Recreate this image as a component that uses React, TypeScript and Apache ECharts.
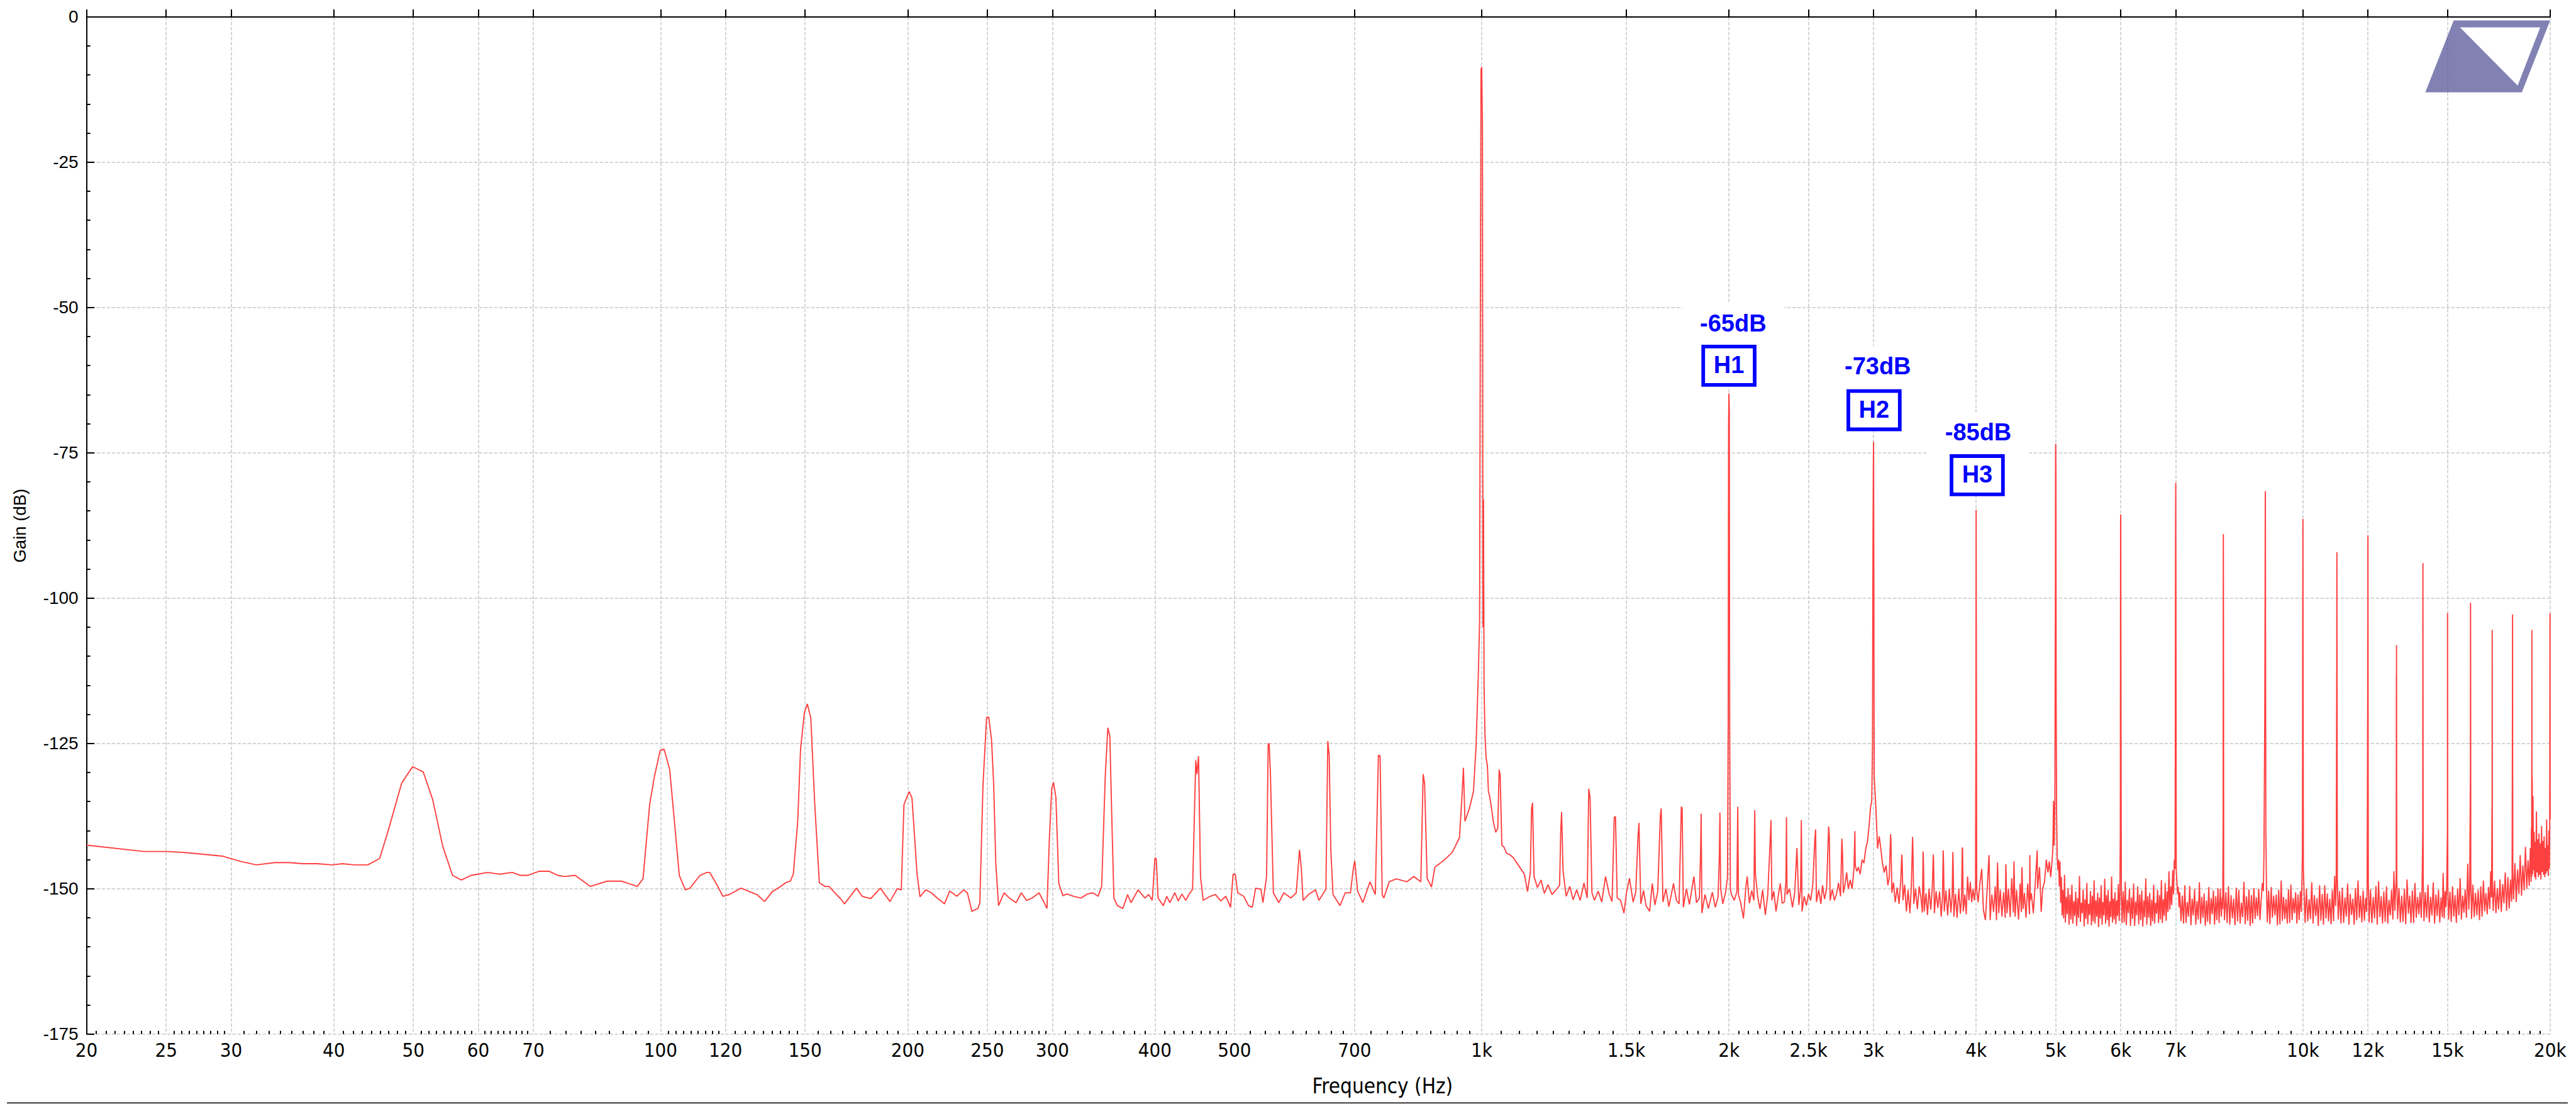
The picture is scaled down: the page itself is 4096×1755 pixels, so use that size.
import React, { useEffect, useRef } from 'react';
import * as echarts from 'echarts';

// ---------- axis values ----------
const FREQ_TICKS = [20, 25, 30, 40, 50, 60, 70, 100, 120, 150, 200, 250, 300, 400, 500, 700,
  1000, 1500, 2000, 2500, 3000, 4000, 5000, 6000, 7000, 10000, 12000, 15000, 20000];
const GAIN_MIN = -175;
const GAIN_MAX = 0;
const GAIN_STEP = 25;

// ---------- spectrum [Hz, dB] ----------
const LOW_BAND: number[][] = [
  [20, -142.5], [23.5, -143.6], [25.1, -143.6], [26.5, -143.8], [29.3, -144.4], [30.8, -145.3], [32.2, -145.9],
  [33.9, -145.5], [35.3, -145.5], [36.7, -145.7], [38.2, -145.7], [39.8, -145.9], [41.0, -145.7], [42.4, -145.9],
  [44.0, -145.9], [45.5, -144.8], [46.6, -140.0], [48.4, -131.8], [49.9, -129.0], [51.4, -129.9], [52.8, -134.7],
  [54.3, -142.7], [55.8, -147.7], [57.2, -148.5], [58.8, -147.7], [61.6, -147.2], [63.6, -147.5], [66.0, -147.2],
  [67.5, -147.7], [68.9, -147.7], [71.1, -147.0], [73.2, -147.0], [75.0, -147.7], [76.4, -147.9], [78.7, -147.7],
  [82.1, -149.6], [86.1, -148.7], [89.6, -148.7], [91.0, -149.0], [93.7, -149.6], [95.2, -148.3], [97.0, -135.5],
  [98.3, -130.7], [99.9, -126.2], [101.0, -126.0], [102.6, -129.5], [103.8, -137.3], [105.4, -147.7], [107.2, -150.2],
  [108.6, -149.9], [111.7, -147.7], [113.9, -147.2], [114.8, -147.2], [117.1, -149.3], [119.1, -151.3], [121.3, -151.0],
  [125.3, -149.9], [131.0, -151.0], [133.9, -152.2], [136.8, -150.5], [140.1, -149.6], [142.3, -148.9], [143.9, -148.7],
  [145.1, -147.5], [146.9, -138.5], [148.1, -125.9], [149.7, -119.7], [150.9, -118.2], [152.4, -120.6], [154.1, -135.5],
  [156.1, -149.0], [158.6, -149.6], [160.4, -149.6], [162.5, -150.5], [165.6, -151.7], [167.5, -152.6], [173.2, -149.9],
  [176.0, -151.3], [180.3, -151.7], [185.2, -149.9], [190.3, -152.2], [194.2, -150.0], [196.4, -150.2], [197.9, -135.5],
  [200.8, -133.3], [202.4, -134.4], [205.3, -147.5], [207.0, -151.4], [210.3, -150.2], [213.7, -150.7], [217.2, -151.6],
  [221.7, -152.6],
];

const HUM_BAND: number[][] = [
  [225, -150.4], [229.5, -151.3], [234, -150.2], [236.4, -150.7], [239.4, -153.9], [243.5, -153.4], [244.8, -152.4],
  [247, -132.1], [249.5, -120.5], [251, -120.5], [253, -124.5], [254.5, -132.1], [256, -145.6], [258, -152.9],
  [262, -150.7], [266, -151.6], [271, -152.4], [275, -150.7], [279, -152.0], [283.5, -151.6], [289, -150.7],
  [293, -152.3], [295.5, -153.4], [297.5, -141.5], [299.5, -132.7], [301, -131.7], [303, -134.3], [305.5, -149.1],
  [309, -151.2], [312.5, -150.9], [318.5, -151.3], [325, -151.6], [331, -150.9], [336, -150.7], [341, -151.3],
  [344.5, -149.6], [348, -130.5], [350.5, -122.3], [352.5, -123.8], [354.5, -138.4], [356.5, -151.6], [360, -152.9],
  [365.5, -153.4], [370.5, -151.0], [374, -152.4], [381.5, -150.2], [389, -151.6], [393, -151.0], [397, -152.0],
  [400, -144.7], [401.5, -144.9], [403.5, -151.6], [409.5, -152.9], [413.5, -151.3], [417, -152.4], [423, -150.7],
  [427, -152.1], [431.5, -150.9], [436, -152.0], [440, -151.0], [444.5, -150.1], [448.5, -127.9], [450, -130.3],
  [452, -127.2], [454.5, -147.9], [458, -152.0], [467, -151.3], [474, -151.0], [481, -152.1], [488, -151.3],
  [494.5, -153.2], [498, -147.5], [501, -147.5], [504.5, -150.7], [513, -151.3], [520, -152.9], [525.5, -153.2],
  [530.5, -149.9], [538.5, -150.1], [541.5, -152.4], [547, -147.9], [549.5, -125.1], [551, -125.0], [553, -130.5],
  [555, -139.6], [557.5, -150.7], [566, -152.4], [574, -150.7], [585.5, -151.6], [594.5, -150.7], [600, -143.3],
  [603, -146.6], [606, -152.0], [615, -151.0], [627.5, -150.2], [633.5, -152.0], [640, -151.0], [646, -150.1],
  [649.5, -124.6], [652, -127.0], [655, -143.4], [659, -151.0], [672, -152.9], [682, -150.7], [692, -150.7],
  [698, -146.3], [700.5, -145.2], [706, -150.4], [716.5, -152.4], [731, -148.8], [742, -151.0], [748.5, -127.0],
  [752, -127.2], [756.5, -151.0], [760, -151.6], [771.5, -148.8], [787, -148.3], [810.5, -148.8], [826.5, -147.9],
  [843, -148.8], [848.5, -130.3], [852, -131.9], [858, -148.2], [868.5, -149.7], [877, -146.3], [890, -145.6],
  [903, -144.9], [921, -143.7], [939.5, -141.2], [946.5, -133.6], [950, -129.2], [954, -138.4], [966, -136.2],
  [977, -133.3], [984, -125.7], [988, -118],
];

const FUNDAMENTAL: number[][] = [
  [991, -112], [994, -104], [996, -54], [998, -9.1], [1000, -8.6], [1002, -19.4], [1003.5, -105], [1005, -83],
  [1006.5, -115], [1008, -120],
];

const BAND_1K_2K: number[][] = [
  [1009, -123.2], [1012, -127.3], [1016, -128.9], [1019, -133.3], [1022, -134.0], [1028, -136.2], [1033, -138.4],
  [1040, -140.3], [1046, -139.6], [1050, -129.5], [1053, -130.5], [1058, -142.5], [1064, -142.8], [1072, -143.9],
  [1081, -144.1], [1093, -144.7], [1104, -145.6], [1116, -146.6], [1127, -147.5], [1137, -150.5], [1146, -147.2],
  [1150, -136.2], [1153, -135.2], [1158, -147.9], [1169, -149.8], [1181, -148.5], [1192, -150.8], [1204, -149.3],
  [1218, -151.0], [1233, -150.1], [1244, -149.4], [1248, -140.0], [1251, -136.8], [1256, -146.9], [1267, -151.3],
  [1280, -149.6], [1292, -151.9], [1305, -150.2], [1318, -152.0], [1332, -149.0], [1344, -151.6], [1350, -132.8],
  [1355, -134.4], [1362, -150.7], [1372, -152.0], [1386, -150.4], [1400, -152.3], [1415, -147.9], [1430, -151.0],
  [1441, -152.2], [1450, -137.7], [1455, -137.6], [1462, -151.6], [1476, -152.0], [1490, -154.2], [1500, -150.8],
  [1513, -148.2], [1529, -152.3], [1540, -150.6], [1550, -140.9], [1554, -138.7], [1562, -152.6], [1574, -150.3],
  [1585, -152.9], [1601, -153.9], [1613, -149.1], [1625, -152.8], [1638, -150.5], [1650, -137.4], [1654, -136.2],
  [1662, -152.3], [1676, -150.0], [1690, -153.1], [1712, -149.1], [1726, -152.0], [1739, -152.6], [1750, -135.9],
  [1754, -136.2], [1760, -153.2], [1775, -150.0], [1790, -152.7], [1813, -147.9], [1826, -152.4], [1841, -151.6],
  [1847, -143.9], [1850, -137.1], [1854, -154.2], [1870, -151.0], [1888, -153.4], [1909, -150.6], [1925, -153.2],
  [1940, -151.4], [1947, -144.4], [1950, -136.9], [1954, -150.0], [1966, -152.6], [1982, -150.5], [1992, -148.0],
  [1996, -120], [1998, -70], [2000, -64.8], [2002, -68], [2004, -120], [2008, -150.0],
];

const BAND_2K_3K: number[][] = [
  [2014, -151.0], [2030, -152.0], [2045, -150.5], [2050, -135.9], [2054, -151.0], [2068, -152.6], [2083, -155.1],
  [2097, -149.8], [2105, -147.9], [2118, -152.5], [2132, -150.3], [2145, -152.0], [2150, -136.5], [2154, -147.5],
  [2168, -151.4], [2182, -153.5], [2198, -150.2], [2215, -154.5], [2230, -151.0], [2247, -140.6], [2250, -138.2],
  [2256, -152.0], [2268, -150.4], [2282, -153.9], [2296, -151.3], [2310, -149.1], [2322, -152.5], [2336, -152.3],
  [2347, -148.5], [2350, -137.7], [2354, -151.0], [2370, -150.0], [2390, -153.2], [2405, -150.7], [2420, -143.0],
  [2433, -152.8], [2445, -150.0], [2450, -138.2], [2455, -153.9], [2470, -151.3], [2485, -152.9], [2500, -150.9],
  [2515, -152.0], [2530, -149.3], [2545, -141.4], [2550, -139.8], [2556, -152.3], [2572, -150.2], [2588, -152.6],
  [2600, -149.4], [2615, -151.8], [2630, -150.0], [2645, -139.3], [2650, -140.9], [2656, -152.0], [2672, -150.1],
  [2688, -152.0], [2703, -151.0], [2720, -149.0], [2735, -151.3], [2745, -141.4], [2750, -144.0], [2756, -150.7],
  [2770, -149.2], [2782, -147.2], [2795, -150.0], [2810, -148.5], [2825, -150.0], [2840, -146.5], [2847, -140.1],
  [2850, -146.0], [2862, -147.0], [2875, -146.3], [2890, -147.5], [2905, -145.0], [2920, -145.6], [2935, -143.1],
  [2950, -141.8], [2962, -139.3], [2975, -136.0], [2985, -134.9], [2991, -125], [2995, -92], [2998, -78],
  [3000, -73.1], [3002, -90],
];

const BAND_3K_4K: number[][] = [
  [3005, -130.5], [3020, -136.2], [3034, -143.1], [3048, -141.0], [3060, -142.8], [3075, -145.5], [3091, -147.2],
  [3107, -146.0], [3123, -149.4], [3135, -148.1], [3147, -140.6], [3150, -141.9], [3158, -150.7], [3172, -148.9],
  [3188, -152.3], [3205, -149.8], [3222, -152.6], [3238, -148.6], [3247, -144.1], [3250, -145.0], [3258, -152.0],
  [3273, -149.3], [3290, -153.9], [3305, -150.2], [3322, -154.2], [3335, -149.7], [3347, -141.1], [3350, -143.0],
  [3358, -152.6], [3375, -150.0], [3392, -153.5], [3410, -149.6], [3427, -151.6], [3440, -154.1], [3447, -143.6],
  [3450, -145.0], [3458, -153.9], [3475, -150.8], [3490, -154.5], [3505, -150.0], [3522, -153.6], [3537, -149.8],
  [3547, -144.1], [3550, -145.0], [3558, -154.2], [3575, -150.4], [3592, -153.3], [3610, -150.5], [3627, -154.8],
  [3640, -151.2], [3647, -143.4], [3650, -145.0], [3658, -153.9], [3675, -150.3], [3693, -154.6], [3710, -150.0],
  [3727, -154.1], [3740, -151.0], [3747, -143.7], [3750, -145.5], [3758, -154.8], [3775, -150.9], [3792, -155.0],
  [3810, -150.0], [3827, -154.3], [3840, -151.5], [3847, -143.1], [3850, -142.9], [3858, -153.9], [3875, -151.0],
  [3890, -154.4], [3905, -147.9], [3920, -152.0], [3935, -148.8], [3950, -152.3], [3965, -150.0], [3980, -152.0],
  [3993, -150], [3997, -125], [4000, -84.8], [4002, -110], [4006, -150],
];

const BAND_4K_5K: number[][] = [
  [4022, -152.3], [4040, -149.4], [4063, -146.6], [4082, -153.6], [4105, -155.4], [4125, -150.2], [4147, -144.2],
  [4150, -146.0], [4160, -155.4], [4180, -151.0], [4200, -154.0], [4220, -149.6], [4235, -155.4], [4247, -145.5],
  [4250, -147.0], [4262, -154.2], [4280, -150.2], [4300, -154.8], [4320, -150.6], [4340, -155.0], [4347, -145.8],
  [4350, -147.0], [4362, -154.2], [4380, -150.0], [4400, -154.9], [4420, -148.2], [4440, -154.1], [4447, -145.3],
  [4450, -147.0], [4462, -154.8], [4480, -150.2], [4505, -155.3], [4525, -149.1], [4540, -154.0], [4547, -146.3],
  [4550, -147.0], [4562, -153.5], [4580, -150.7], [4600, -155.0], [4622, -149.1], [4645, -154.4], [4650, -144.2],
  [4655, -152.0], [4670, -150.8], [4695, -154.2], [4720, -149.3], [4747, -143.4], [4752, -150.0], [4778, -146.3],
  [4800, -154.0], [4820, -150.0], [4845, -148.8], [4870, -145.0], [4892, -147.2], [4910, -145.3], [4930, -148.0],
  [4948, -145.3], [4960, -143.0], [4969, -134.9], [4978, -142.6], [4988, -134.9], [4995, -100], [4998, -74.5],
  [5000, -73.5], [5003, -80], [5006, -118],
];

const BAND_5K_7K: number[][] = [
  [5012, -137.1], [5020, -144.3], [5030, -146.8], [5040, -145.0], [5050, -149.6], [5060, -145.3], [5070, -152.4],
  [5080, -148.0], [5090, -154.6], [5100, -150.2], [5112, -155.1], [5125, -147.6], [5137, -155.8], [5150, -151.4],
  [5163, -154.4], [5176, -149.9], [5190, -156.2], [5204, -151.0], [5218, -155.3], [5232, -149.3], [5246, -156.0],
  [5260, -152.1], [5274, -154.7], [5288, -150.5], [5302, -156.4], [5316, -151.6], [5330, -155.0], [5344, -147.8],
  [5358, -155.7], [5372, -152.4], [5386, -154.2], [5400, -150.1], [5414, -156.5], [5428, -151.8], [5442, -155.2],
  [5456, -149.0], [5470, -156.1], [5484, -152.6], [5498, -154.5], [5512, -150.4], [5526, -156.3], [5540, -151.2],
  [5554, -155.6], [5568, -148.6], [5582, -156.0], [5596, -152.0], [5610, -154.8], [5624, -150.7], [5638, -156.6],
  [5652, -151.5], [5666, -155.1], [5680, -149.4], [5694, -156.2], [5708, -152.3], [5722, -154.6], [5736, -148.3],
  [5750, -156.0], [5764, -151.1], [5778, -155.4], [5792, -150.2], [5806, -156.5], [5820, -152.2], [5834, -154.9],
  [5848, -147.9], [5862, -155.8], [5876, -151.7], [5890, -155.3], [5904, -150.6], [5918, -156.1], [5932, -152.0],
  [5946, -154.7], [5960, -149.2], [5974, -155.5], [5985, -151.0],
  [5993, -140], [5997, -87.2], [6000, -85.6], [6004, -120], [6010, -150.5],
  [6022, -155.9], [6040, -150.4], [6058, -155.8], [6076, -148.8], [6094, -156.3], [6112, -151.9], [6130, -154.2],
  [6148, -150.0], [6166, -156.4], [6184, -151.5], [6202, -155.2], [6220, -149.1], [6238, -156.4], [6256, -152.2],
  [6274, -154.6], [6292, -149.6], [6310, -156.1], [6328, -151.0], [6346, -155.4], [6364, -150.3], [6382, -156.5],
  [6400, -152.0], [6418, -154.9], [6436, -148.2], [6454, -156.2], [6472, -151.3], [6490, -155.0], [6508, -150.7],
  [6526, -156.4], [6544, -151.9], [6562, -155.6], [6580, -149.3], [6598, -156.0], [6616, -152.4], [6634, -154.3],
  [6652, -150.2], [6670, -155.9], [6688, -151.1], [6706, -155.3], [6724, -148.5], [6742, -155.9], [6760, -151.8],
  [6778, -154.7], [6796, -149.0], [6814, -155.5], [6832, -150.4], [6850, -154.0], [6868, -147.0], [6886, -153.6],
  [6904, -149.6], [6922, -152.8], [6940, -146.8], [6958, -151.0], [6972, -145.0], [6985, -146.6],
  [6990, -135.3], [6996, -90], [7000, -80.2], [7004, -100], [7010, -146.8],
];

const BAND_7K_10K: number[][] = [
  [7022, -148.5], [7036, -150.9], [7050, -149.7], [7064, -153.2],
  [7080, -150.6], [7105, -155.6], [7130, -151.2], [7155, -156.0], [7180, -149.4], [7205, -155.9], [7230, -152.3],
  [7255, -154.8], [7280, -149.5], [7305, -156.3], [7330, -151.7], [7355, -154.6], [7380, -150.0], [7405, -156.2],
  [7430, -152.1], [7455, -155.3], [7480, -148.9], [7505, -156.0], [7530, -151.4], [7555, -155.0], [7580, -150.8],
  [7605, -156.4], [7630, -152.0], [7655, -155.7], [7680, -149.7], [7705, -156.1], [7730, -151.6], [7755, -154.4],
  [7780, -150.3], [7805, -156.2], [7830, -151.3], [7855, -155.4], [7880, -149.9], [7905, -155.9], [7930, -150.0],
  [7955, -154.8], [7975, -151.5], [7985, -153.5],
  [7994, -140], [7998, -92], [8000, -89.0], [8003, -110], [8008, -150.2],
  [8025, -155.4], [8055, -150.6], [8085, -155.9], [8115, -149.6], [8145, -156.2], [8175, -151.1], [8205, -155.1],
  [8235, -151.7], [8265, -156.3], [8295, -149.8], [8325, -155.6], [8355, -150.2], [8385, -156.0], [8415, -152.4],
  [8445, -154.9], [8475, -148.8], [8505, -156.1], [8535, -151.3], [8565, -155.5], [8595, -150.1], [8625, -156.4],
  [8655, -151.1], [8685, -156.0], [8715, -149.9], [8745, -155.2], [8775, -151.5], [8805, -154.7], [8835, -150.0],
  [8865, -155.4], [8895, -152.0], [8925, -149.0], [8950, -150.4], [8965, -143.7],
  [8985, -120], [8993, -100], [8997, -83], [9000, -81.6], [9004, -105], [9012, -140.5], [9030, -150.4],
  [9050, -155.8], [9082, -150.3], [9115, -156.1], [9148, -149.7], [9180, -155.0], [9212, -151.2], [9245, -154.6],
  [9278, -151.0], [9310, -156.3], [9342, -150.2], [9375, -156.1], [9408, -148.6], [9440, -155.5], [9472, -151.4],
  [9505, -155.2], [9538, -151.8], [9570, -156.0], [9602, -150.1], [9635, -155.9], [9668, -149.3], [9700, -155.4],
  [9732, -151.6], [9765, -154.2], [9798, -150.6], [9830, -156.0], [9862, -151.0], [9895, -155.4], [9928, -150.4],
  [9955, -154.0], [9972, -148.8], [9985, -143.9],
  [9995, -100], [9998, -88], [10000, -86.4], [10004, -110], [10012, -146.3], [10030, -150.2],
];

const BAND_10K_15K: number[][] = [
  [10060, -155.9], [10098, -150.0], [10136, -155.6], [10174, -151.8], [10212, -155.2], [10250, -148.9],
  [10288, -156.0], [10326, -151.1], [10364, -154.7], [10402, -151.6], [10440, -156.4], [10478, -149.4],
  [10516, -155.5], [10554, -150.9], [10592, -156.2], [10630, -149.4], [10668, -155.1], [10706, -150.8],
  [10744, -155.6], [10782, -151.7], [10820, -156.1], [10858, -150.2], [10896, -155.6], [10930, -147.8],
  [10960, -153.0], [10978, -149.4],
  [10995, -110], [10998, -94], [11000, -92.1], [11004, -115], [11012, -148.0],
  [11040, -155.3], [11082, -150.4], [11124, -156.0], [11166, -149.8], [11208, -155.9], [11250, -151.5],
  [11292, -154.8], [11334, -149.1], [11376, -156.2], [11418, -150.9], [11460, -154.5], [11502, -151.7],
  [11544, -156.2], [11586, -149.9], [11628, -155.4], [11670, -148.6], [11712, -155.0], [11754, -151.2],
  [11796, -155.8], [11838, -150.3], [11880, -155.5], [11922, -151.6], [11955, -154.0], [11972, -149.5],
  [11995, -110], [11998, -91], [12000, -89.2], [12004, -115], [12012, -149.0],
  [12040, -155.8], [12086, -150.1], [12132, -155.9], [12178, -151.4], [12224, -155.1], [12270, -149.5],
  [12316, -156.2], [12362, -148.7], [12408, -154.9], [12454, -151.3], [12500, -156.0], [12546, -150.5],
  [12592, -155.7], [12638, -149.6], [12684, -156.0], [12730, -151.9], [12776, -154.6], [12822, -150.2],
  [12868, -155.3], [12905, -147.0], [12940, -153.8], [12965, -150.5],
  [12990, -148], [12995, -113.3], [12998, -145], [13000, -108.1], [13004, -130], [13012, -148.5],
  [13040, -155.2], [13090, -149.9], [13140, -155.8], [13190, -151.2], [13240, -155.7], [13290, -150.0],
  [13340, -156.1], [13390, -148.4], [13440, -154.3], [13490, -151.2], [13540, -155.9], [13590, -150.3],
  [13640, -155.9], [13690, -149.0], [13740, -155.0], [13790, -151.4], [13840, -154.4], [13890, -150.6],
  [13935, -155.0], [13965, -150.2],
  [13993, -140], [13997, -96], [14000, -94.0], [14004, -123.5], [14010, -148.5],
  [14040, -155.6], [14093, -150.6], [14146, -155.0], [14199, -149.3], [14252, -155.8], [14305, -151.4],
  [14358, -154.6], [14411, -148.9], [14464, -156.0], [14517, -151.0], [14570, -154.7], [14623, -150.2],
  [14676, -155.8], [14729, -151.5], [14782, -154.9], [14815, -147.3], [14860, -155.1], [14900, -150.4],
  [14935, -153.2], [14965, -149.5],
  [14995, -140], [15000, -102.6], [15004, -130], [15012, -149.8],
];

const BAND_15K_20K: number[][] = [
  [15045, -155.3], [15100, -150.5], [15155, -155.7], [15210, -149.6], [15265, -154.8], [15320, -151.1],
  [15375, -155.9], [15430, -150.0], [15485, -154.6], [15540, -148.2], [15595, -155.3], [15650, -151.2],
  [15705, -154.1], [15760, -150.1], [15815, -155.0], [15875, -145.7], [15920, -153.6], [15960, -150.2],
  [15993, -130], [15997, -100.8], [16000, -101.5], [16003, -111.5], [16010, -147.8],
  [16045, -155.2], [16105, -149.3], [16165, -154.9], [16225, -150.7], [16285, -154.6], [16345, -150.2],
  [16405, -155.4], [16465, -149.6], [16525, -154.8], [16585, -148.6], [16645, -153.9], [16705, -150.8],
  [16765, -154.4], [16825, -149.7], [16885, -153.5], [16930, -147.0], [16968, -151.5],
  [16995, -135], [17000, -105.5], [17004, -135], [17012, -148.8],
  [17050, -153.8], [17115, -148.6], [17180, -154.2], [17245, -149.9], [17310, -153.6], [17375, -148.4],
  [17440, -154.0], [17505, -149.2], [17570, -152.5], [17635, -147.2], [17700, -153.8], [17765, -148.0],
  [17830, -153.4], [17895, -148.4], [17950, -152.2], [17975, -149.0],
  [17993, -120], [17997, -104.9], [18000, -102.8], [18004, -125], [18012, -147.0],
  [18050, -151.8], [18118, -145.6], [18186, -152.3], [18254, -146.7], [18322, -150.9], [18390, -144.2],
  [18458, -151.2], [18526, -146.0], [18594, -150.3], [18662, -142.8], [18730, -150.0], [18798, -145.1],
  [18860, -149.5], [18920, -143.0], [18960, -148.8], [18975, -139.5],
  [18990, -148], [18997, -125], [19000, -105.5], [19004, -130],
  [19020, -132.0], [19040, -147.5], [19060, -134.1], [19090, -146.8], [19120, -140.2], [19150, -148.0],
  [19180, -141.9], [19210, -148.4], [19245, -136.7], [19280, -147.2], [19315, -141.5], [19350, -148.0],
  [19385, -140.5], [19420, -147.6], [19455, -142.2], [19490, -148.4], [19525, -139.2], [19560, -147.1],
  [19595, -141.8], [19630, -147.6], [19665, -141.0], [19700, -148.0], [19735, -143.0], [19770, -147.4],
  [19805, -138.1], [19840, -147.0], [19870, -142.5], [19900, -147.8], [19930, -140.0], [19960, -146.5],
  [19975, -139], [19985, -120], [19992, -102.6], [20000, -138.1],
];

// ---------- harmonic annotations ----------
const ANNOT_FREQS = [2000, 3000, 4000];
const ANNOT_GAINS = [-65, -73, -85];
const ANNOT_NAMES = ['H1', 'H2', 'H3'];

const SPECTRUM = [
  ...LOW_BAND, ...HUM_BAND, ...FUNDAMENTAL, ...BAND_1K_2K, ...BAND_2K_3K,
  ...BAND_3K_4K, ...BAND_4K_5K, ...BAND_5K_7K, ...BAND_7K_10K, ...BAND_10K_15K, ...BAND_15K_20K,
];

// minor ticks: 8 between each labelled frequency
const MINOR_TICKS: number[] = [];
for (let i = 0; i < FREQ_TICKS.length - 1; i++) {
  const a = FREQ_TICKS[i];
  const b = FREQ_TICKS[i + 1];
  for (let k = 1; k < 9; k++) MINOR_TICKS.push(a + ((b - a) * k) / 9);
}

// layout (px) : [textDx, textDy, boxDx, boxDy] relative to the peak
const ANNOT_LAYOUT = [
  [6.7, -113.5, 0, -46],
  [6.7, -119.3, 0.8, -49.2],
  [3.3, -125.1, 1.7, -56.7],
];

const NARROW = "'Liberation Sans Narrow', 'DejaVu Sans Condensed', 'Liberation Sans', sans-serif";
const SANS = "'Liberation Sans', Arial, sans-serif";
const GRID_COLOR = '#c8c8c8';

function fmtFreq(v: number): string {
  const r = Math.round(v);
  if (r >= 1000) return `${Math.round(r / 100) / 10}k`;
  return `${r}`;
}

export default function App() {
  const ref = useRef<HTMLDivElement>(null);
  useEffect(() => {
    if (!ref.current) return;
    const chart = echarts.init(ref.current, undefined, { renderer: 'svg' });
    const baseX = {
      type: 'log',
      logBase: 10,
      min: 20,
      max: 20000,
      position: 'bottom',
    };
    const option: any = {
      animation: false,
      backgroundColor: '#ffffff',
      grid: { left: 137.6, right: 41.1, top: 26.7, bottom: 111.2, containLabel: false, outerBoundsMode: 'none' },
      xAxis: [
        {
          ...baseX,
          axisLine: { show: true, lineStyle: { color: '#000', width: 2 } },
          axisTick: { show: true, inside: true, length: 11.7, customValues: FREQ_TICKS, lineStyle: { color: '#000', width: 2 } },
          minorTick: { show: false },
          axisLabel: {
            show: true, customValues: FREQ_TICKS, margin: 10, color: '#000', fontSize: 31,
            fontFamily: NARROW, formatter: (v: number) => fmtFreq(v),
          },
          splitLine: { show: true, lineStyle: { color: GRID_COLOR, width: 1.5, type: [5.5, 2.5] } },
        },
        {
          ...baseX,
          axisLine: { show: false },
          axisTick: { show: true, inside: true, length: 5, customValues: MINOR_TICKS, lineStyle: { color: '#000', width: 2 } },
          axisLabel: { show: false },
          splitLine: { show: false },
          minorTick: { show: false },
        },
      ],
      yAxis: {
        type: 'value',
        min: GAIN_MIN,
        max: GAIN_MAX,
        interval: GAIN_STEP,
        axisLine: { show: true, lineStyle: { color: '#000', width: 2 } },
        axisTick: { show: true, inside: true, length: 12.5, lineStyle: { color: '#000', width: 2 } },
        minorTick: { show: true, splitNumber: 5, length: 6, lineStyle: { color: '#000', width: 2 } },
        axisLabel: { show: true, margin: 13, color: '#000', fontSize: 28, fontFamily: SANS },
        splitLine: { show: true, lineStyle: { color: GRID_COLOR, width: 1.5, type: [5.5, 2.5] } },
      },
      series: [
        {
          type: 'line',
          data: SPECTRUM,
          xAxisIndex: 0,
          yAxisIndex: 0,
          showSymbol: false,
          symbol: 'none',
          silent: true,
          z: 3,
          lineStyle: { color: '#ff4040', width: 1.9 },
        },
        {
          type: 'custom',
          coordinateSystem: 'cartesian2d',
          xAxisIndex: 0,
          yAxisIndex: 0,
          data: ANNOT_FREQS.map((f, i) => [f, ANNOT_GAINS[i], i]),
          encode: { x: 0, y: 1 },
          clip: false,
          silent: true,
          z: 10,
          renderItem: (_params: any, api: any) => {
            const i = api.value(2);
            const pt = api.coord([api.value(0), api.value(1)]);
            const L = ANNOT_LAYOUT[i];
            const tx = pt[0] + L[0];
            const ty = pt[1] + L[1];
            const bx = pt[0] + L[2];
            const by = pt[1] + L[3];
            const bgTop = ty - 32;
            const bgBottom = by + 33.3;
            return {
              type: 'group',
              children: [
                { type: 'rect', shape: { x: tx - 81, y: bgTop, width: 162, height: bgBottom - bgTop }, style: { fill: '#ffffff' } },
                {
                  type: 'text', x: tx, y: ty,
                  style: { text: `${ANNOT_GAINS[i]}dB`, fill: '#0000ff', fontSize: 38, fontWeight: 'bold', fontFamily: SANS, align: 'center', verticalAlign: 'middle' },
                },
                {
                  type: 'rect', shape: { x: bx - 40.9, y: by - 30.45, width: 81.8, height: 60.9 },
                  style: { fill: '#ffffff', stroke: '#0000ff', lineWidth: 5.8 },
                },
                {
                  type: 'text', x: bx, y: by - 1.5,
                  style: { text: ANNOT_NAMES[i], fill: '#0000ff', fontSize: 38, fontWeight: 'bold', fontFamily: SANS, align: 'center', verticalAlign: 'middle' },
                },
              ],
            };
          },
        },
      ],
      graphic: [
        {
          type: 'text', x: 31.7, y: 835.7, rotation: Math.PI / 2, z: 20,
          style: { text: 'Gain (dB)', fill: '#000', fontSize: 27.5, fontFamily: SANS, align: 'center', verticalAlign: 'middle' },
        },
        {
          type: 'text', x: 2198.4, y: 1726.4, z: 20,
          style: { text: 'Frequency (Hz)', fill: '#000', fontSize: 33, fontFamily: NARROW, align: 'center', verticalAlign: 'middle' },
        },
        {
          type: 'polygon', z: 20,
          shape: { points: [[3901.5, 32.5], [4054.9, 32.5], [4009.9, 146.8], [3856.4, 146.8]] },
          style: { fill: 'rgba(80,80,150,0.72)' },
        },
        {
          type: 'polygon', z: 21,
          shape: { points: [[3911.5, 43.4], [4039.1, 43.4], [4003.2, 135.9]] },
          style: { fill: '#ffffff' },
        },
        {
          type: 'line', z: 20,
          shape: { x1: 11, y1: 1753.3, x2: 4083, y2: 1753.3 },
          style: { stroke: '#3a3a3a', lineWidth: 2 },
        },
      ],
    };
    chart.setOption(option);
    return () => chart.dispose();
  }, []);
  return (
    <div
      ref={ref}
      style={{ position: 'fixed', left: 0, top: 0, width: '4096px', height: '1755px', background: '#fff' }}
    />
  );
}
